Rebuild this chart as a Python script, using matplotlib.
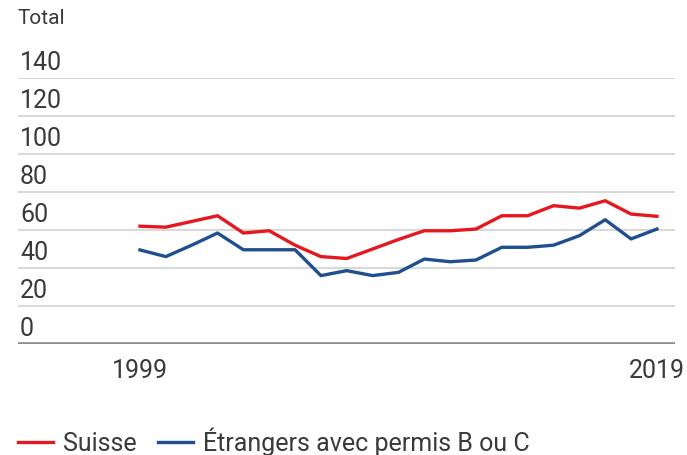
import matplotlib.pyplot as plt

plt.rcParams['font.family'] = ['Roboto', 'DejaVu Sans']

# données
years = list(range(1999, 2020))
suisse = [62, 61.5, 64.5, 67.5, 58.4, 59.6, 52, 46, 45, 50, 55, 59.6, 59.6, 60.5,
          67.5, 67.5, 72.8, 71.5, 75.4, 68.4, 67.2]
etrangers = [49.5, 46, 52, 58.4, 49.6, 49.6, 49.6, 36, 38.6, 36, 37.7, 44.7, 43.3, 44.2,
             50.9, 50.9, 52, 57, 65.4, 55.3, 60.5]
y_ticks = [0, 20, 40, 60, 80, 100, 120, 140]
x_labels = [1999, 2019]

W, H = 687, 456
fig = plt.figure(figsize=(W / 100, H / 100), dpi=100)
# axes: x 18..675 px, y 0 -> 345 px, 140 -> 79 px
ax = fig.add_axes([18 / W, 1 - 345 / H, (675 - 18) / W, (345 - 79) / H])

red = '#e5181f'
blue = '#1f4f8f'
txt = '#3a3a3a'

ax.plot(years, suisse, color=red, lw=2.4, label='Suisse', zorder=3)
ax.plot(years, etrangers, color=blue, lw=2.4, label='Étrangers avec permis B ou C', zorder=3)

ax.set_xlim(1994.28, 2019.7)
ax.set_ylim(0, 140)

for v in y_ticks:
    if v == 0:
        ax.axhline(v, color='#8c8c8c', lw=2.6, zorder=2)
    else:
        ax.axhline(v, color='#d9d9d9', lw=1.5, zorder=1)
    ax.annotate(str(v), xy=(0, v), xycoords=('axes fraction', 'data'),
                xytext=(1.5, 6.5), textcoords='offset points',
                ha='left', va='baseline', fontsize=18, color=txt)

fig.text(18 / W, 1 - 19 / H, 'Total', ha='left', va='center', fontsize=15, color=txt)

# étiquettes des années
for x in x_labels:
    ax.annotate(str(x), xy=(x, 0), xytext=(0, -18.5), textcoords='offset points',
                ha='center', va='center', fontsize=18, color=txt, annotation_clip=False)

for s in ax.spines.values():
    s.set_visible(False)
ax.set_xticks([])
ax.set_yticks([])

fig.legend(loc='center left', bbox_to_anchor=(18 / W, 1 - 442 / H), ncol=2, frameon=False,
           fontsize=18, handlelength=1.4, handletextpad=0.4, columnspacing=0.85,
           labelcolor=txt, borderaxespad=0, borderpad=0)

fig.savefig('out.png', dpi=100)
